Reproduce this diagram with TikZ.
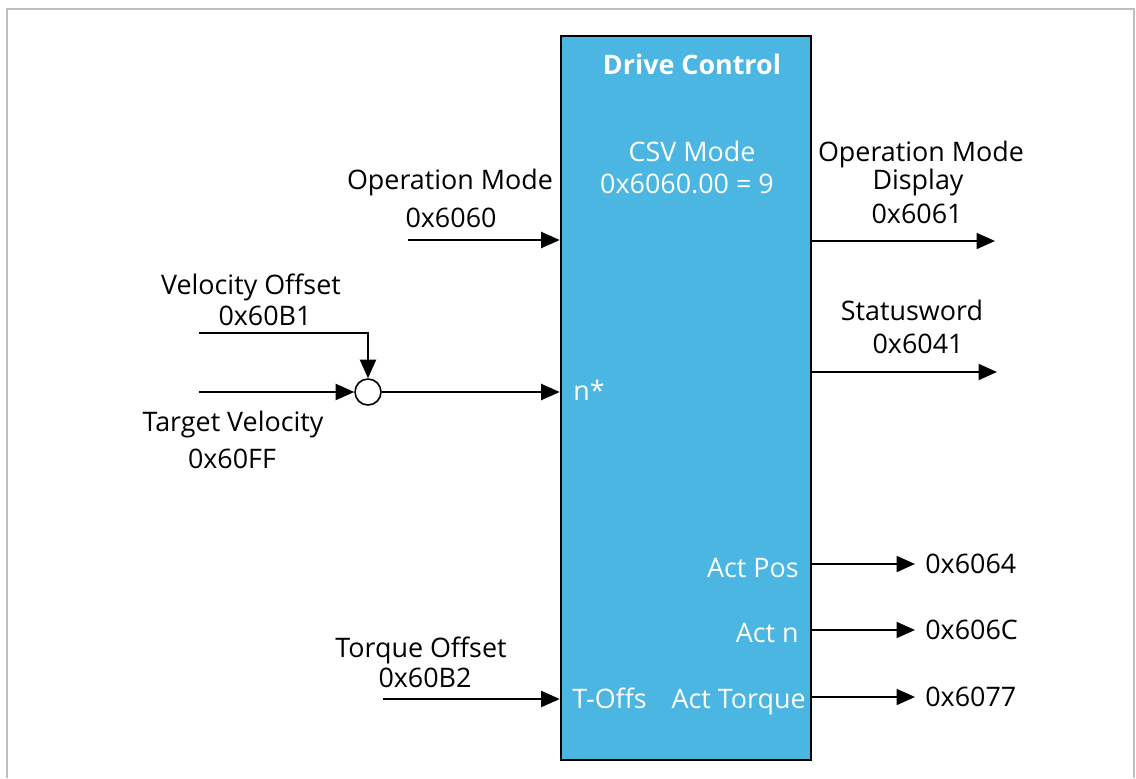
\documentclass[tikz,border=0pt]{standalone}
\usepackage{fontspec}
\setmainfont{Open Sans}
\usetikzlibrary{arrows.meta,positioning,calc}
\definecolor{ctrlblue}{RGB}{75,182,226}
\tikzset{
  lbl/.style={font=\fontsize{15.3}{17}\selectfont, inner sep=0pt, anchor=base},
  inlbl/.style={lbl, text=white},
  sig/.style={-{Triangle[length=0.37cm, width=0.32cm]}, line width=1.15pt, draw=black},
  ctrlbox/.style={rectangle, draw=black, line width=1.5pt, fill=ctrlblue,
    minimum width=5cm, minimum height=14.48cm, inner sep=0pt},
  sumnode/.style={circle, draw=black, line width=0.9pt, fill=white,
    minimum size=0.52cm, inner sep=0pt},
}
\begin{document}
\begin{tikzpicture}[x=0.02cm, y=-0.02cm]
  \useasboundingbox (0,0) rectangle (1136,778);
  \draw[gray!50, line width=1.2pt] (7,778) -- (7,9) -- (1134,9) -- (1134,778);

  % the drive control block
  \node[ctrlbox] (dc) at (686,398) {};
  \node[inlbl, font=\fontsize{15.3}{17}\selectfont\bfseries] (dctitle) at (692,74) {Drive Control};
  \node[inlbl] (mode) at (692,161) {CSV Mode};
  \node[inlbl] (modeval) at (687,193) {0x6060.00 = 9};
  \node[inlbl, anchor=base west] (nref) at (573,400) {n*};
  \node[inlbl, anchor=base west] (toffs) at (572,708) {T-Offs};

  % inputs
  \node[lbl] (om) at (450,189) {Operation Mode};
  \node[lbl] (omidx) at (451,227) {0x6060};
  \coordinate (om in) at (408,240);
  \draw[sig] (om in) -- (om in -| dc.west);

  \node[sumnode] (sum) at (368,392) {};
  \node[lbl] (vo) at (251,294) {Velocity Offset};
  \node[lbl] (voidx) at (265,325) {0x60B1};
  \coordinate (vo in) at (199,333);
  \draw[sig] (vo in) -- (vo in -| sum.north) -- (sum.north);
  \node[lbl] (tv) at (233,431) {Target Velocity};
  \node[lbl] (tvidx) at (232,468) {0x60FF};
  \coordinate (tv in) at (199,392);
  \draw[sig] (tv in) -- (sum.west);
  \draw[sig] (sum.east) -- (sum.east -| dc.west);

  \node[lbl] (to) at (421,657) {Torque Offset};
  \node[lbl] (toidx) at (425,687) {0x60B2};
  \coordinate (to in) at (383,699);
  \draw[sig] (to in) -- (to in -| dc.west);

  % outputs
  \node[lbl] (omd) at (921,161) {Operation Mode};
  \node[lbl] (omdb) at (918,189) {Display};
  \node[lbl] (omdidx) at (917,223) {0x6061};
  \coordinate (omd out) at (995,241);
  \draw[sig] (omd out -| dc.east) -- (omd out);

  \node[lbl] (sw) at (912,320) {Statusword};
  \node[lbl] (swidx) at (918,353) {0x6041};
  \coordinate (sw out) at (997,372);
  \draw[sig] (sw out -| dc.east) -- (sw out);

  \foreach \y/\x/\b/\txt/\idx/\nm in {564/799/577/Act Pos/0x6064/pos, 630/799/642/Act n/0x606C/spd,
      697/806/708/Act Torque/0x6077/trq} {
    \node[inlbl, anchor=base east] (\nm) at (\x,\b) {\txt};
    \coordinate (\nm out) at (915,\y);
    \draw[sig] (\nm out -| dc.east) -- (\nm out);
    \node[lbl, anchor=base west] (\nm idx) at (925,\y+9) {\idx};
  }
\end{tikzpicture}
\end{document}
